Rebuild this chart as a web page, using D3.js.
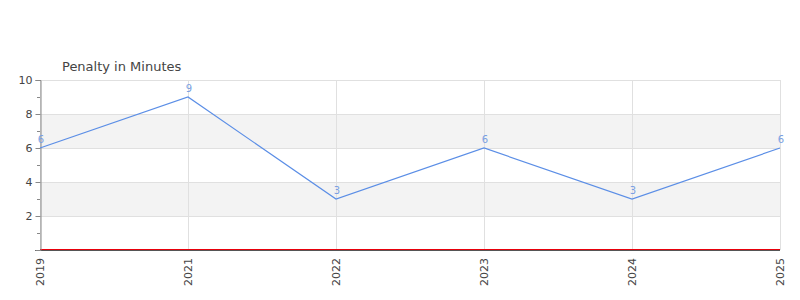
<!DOCTYPE html>
<html>
<head>
<meta charset="utf-8">
<script src="https://cdn.jsdelivr.net/npm/d3@7"></script>
<style>
  body { margin: 0; background: #fff; }
  text { font-family: "DejaVu Sans", sans-serif; }
</style>
</head>
<body>
<svg id="chart"></svg>
<script>
const years = ['2019', '2021', '2022', '2023', '2024', '2025'];
const penaltyMinutes = [6, 9, 3, 6, 3, 6];
const yMajorTicks = [2, 4, 6, 8, 10];
const yMinorTicks = [1, 3, 5, 7, 9];
const bands = [[2, 4], [6, 8]];

const width = 800;
const height = 300;
const margin = { top: 80, right: 20, bottom: 50, left: 40 };

const svg = d3.select('#chart')
  .attr('width', width)
  .attr('height', height);

const x = d3.scalePoint()
  .domain(years)
  .range([margin.left, width - margin.right]);

const y = d3.scaleLinear()
  .domain([0, 10])
  .range([height - margin.bottom, margin.top]);

// shaded bands
svg.append('g')
  .selectAll('rect')
  .data(bands)
  .enter()
  .append('rect')
  .attr('x', margin.left)
  .attr('width', width - margin.right - margin.left)
  .attr('y', (d) => y(d[1]))
  .attr('height', (d) => y(d[0]) - y(d[1]))
  .attr('fill', '#f3f3f3');

// horizontal grid
svg.append('g')
  .selectAll('line')
  .data(yMajorTicks)
  .enter()
  .append('line')
  .attr('x1', margin.left)
  .attr('x2', width - margin.right)
  .attr('y1', (d) => y(d) + 0.5)
  .attr('y2', (d) => y(d) + 0.5)
  .attr('stroke', '#e0e0e0');

// vertical grid
svg.append('g')
  .selectAll('line')
  .data(years)
  .enter()
  .append('line')
  .attr('x1', (d) => x(d) + 0.5)
  .attr('x2', (d) => x(d) + 0.5)
  .attr('y1', y(10))
  .attr('y2', y(0))
  .attr('stroke', '#e0e0e0');

// baseline
svg.append('line')
  .attr('x1', margin.left)
  .attr('x2', width - margin.right)
  .attr('y1', y(0) - 0.5)
  .attr('y2', y(0) - 0.5)
  .attr('stroke', '#e8000b');

svg.append('line')
  .attr('x1', margin.left - 5)
  .attr('x2', width - margin.right)
  .attr('y1', y(0) + 0.5)
  .attr('y2', y(0) + 0.5)
  .attr('stroke', '#555');

// y axis
const yAxis = svg.append('g')
  .attr('transform', `translate(${margin.left + 0.5},0)`)
  .call(d3.axisLeft(y).tickValues(yMajorTicks).tickSize(5).tickPadding(3));
yAxis.select('.domain').attr('stroke', '#888');
yAxis.selectAll('.tick line').attr('stroke', '#888');
yAxis.selectAll('.tick text')
  .attr('fill', '#444')
  .attr('font-size', 11)
  .attr('font-family', '"DejaVu Sans", sans-serif');

svg.append('g')
  .selectAll('line')
  .data(yMinorTicks)
  .enter()
  .append('line')
  .attr('x1', margin.left - 3)
  .attr('x2', margin.left)
  .attr('y1', (d) => y(d) + 0.5)
  .attr('y2', (d) => y(d) + 0.5)
  .attr('stroke', '#888');

// x labels
svg.append('g')
  .selectAll('text')
  .data(years)
  .enter()
  .append('text')
  .attr('transform', (d) => `translate(${x(d) + 4},${y(0) + 8}) rotate(-90)`)
  .attr('text-anchor', 'end')
  .attr('font-size', 11)
  .attr('fill', '#444')
  .text((d) => d);

// line
const line = d3.line()
  .x((d, i) => x(years[i]))
  .y((d) => y(d));

svg.append('path')
  .datum(penaltyMinutes)
  .attr('d', line)
  .attr('fill', 'none')
  .attr('stroke', '#5b8ee6')
  .attr('stroke-width', 1.2);

// value labels
svg.append('g')
  .selectAll('text')
  .data(penaltyMinutes)
  .enter()
  .append('text')
  .attr('x', (d, i) => x(years[i]) + 1)
  .attr('y', (d) => y(d) - 5)
  .attr('text-anchor', 'middle')
  .attr('font-size', 10)
  .attr('fill', '#7a9fe2')
  .text((d) => d);

// title
svg.append('text')
  .attr('x', 62)
  .attr('y', 71)
  .attr('font-size', 13)
  .attr('fill', '#444')
  .text('Penalty in Minutes');
</script>
</body>
</html>
